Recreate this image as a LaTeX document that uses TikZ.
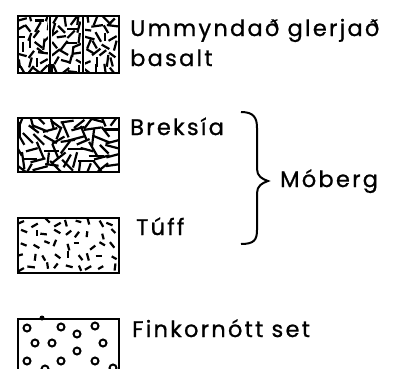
\documentclass[tikz,border=0pt]{standalone}
\usepackage{fontspec}
\setmainfont{Poppins}[LetterSpace=10, FakeBold=0.9]
\tikzset{
  legendbox/.style={draw, line width=2.4pt},
  lbl/.style={anchor=base west, inner sep=0pt, font=\fontsize{22.5}{26}\selectfont},
  dashstroke/.style={line width=2.2pt, line cap=butt},
  grain/.style={line width=2pt}
}
\newcommand{\griddashes}[8]{%
  % #1 x0 #2 y0 #3 cols #4 rows #5 spacing #6 half-length min #7 half-length extra #8 jitter
  \foreach \ci in {1,...,#3} {
    \foreach \ri in {1,...,#4} {
      \pgfmathsetmacro\cx{#1+(\ci-0.5)*#5+#8*rand}
      \pgfmathsetmacro\cy{#2+(\ri-0.5)*#5+#8*rand}
      \pgfmathsetmacro\ang{random(0,11)*15+random(0,1)*7}
      \pgfmathsetmacro\len{#6+#7*rnd}
      \pgfmathsetmacro\dx{\len*cos(\ang)}
      \pgfmathsetmacro\dy{\len*sin(\ang)}
      \draw[dashstroke] (\cx-\dx,\cy-\dy) -- (\cx+\dx,\cy+\dy);
    }%
  }%
}
\begin{document}
\begin{tikzpicture}[x=1pt,y=-1pt]
\useasboundingbox (0,0) rectangle (399,368);
\pgfmathsetseed{11}
% ---- box 1: altered glassy basalt
\begin{scope}
  \clip (17,15) rectangle (118,72);
  \griddashes{17}{15}{12}{7}{8.4}{4}{2}{2.5}
\end{scope}
\fill[white] (48,15) rectangle (52,72);
\fill[white] (81,15) rectangle (85,72);
\draw[line width=2pt] (50,15) -- (50,72);
\draw[line width=2pt] (83,15) -- (83,72);
\fill (47.5,64) rectangle (53,72);
\node[legendbox, minimum width=101pt, minimum height=57pt, anchor=north west, inner sep=0pt] (b1) at (17,15) {};
\node[lbl] (t1) at (130,36) {Ummyndað glerjað};
\node[lbl] (t1b) at (130,66) {basalt};
% ---- box 2: breccia
\begin{scope}
  \clip (17,117) rectangle (118,171);
  \griddashes{17}{117}{11}{6}{9.2}{6}{3}{3}
\end{scope}
\node[legendbox, minimum width=101pt, minimum height=54pt, anchor=north west, inner sep=0pt] (b2) at (17,117) {};
\node[lbl] (t2) at (130,135) {Breksía};
% ---- box 3: tuff
\begin{scope}
  \clip (17,217) rectangle (118,272);
  \griddashes{17}{217}{9}{5}{11.2}{2.8}{1}{3}
\end{scope}
\node[legendbox, minimum width=101pt, minimum height=55pt, anchor=north west, inner sep=0pt] (b3) at (17,217) {};
\node[lbl] (t3) at (136,235) {Túff};
% ---- box 4: fine-grained sediment
\begin{scope}
  \clip (17,318) rectangle (118,368);
  \foreach \p in {(27,328),(61,327),(77,334),(95,326),(35,343),(52,343),(77,351),(103,343),(27,361),(61,361),(95,361),(45,369),(113,368)}
    \draw[grain] \p circle (3.5);
\end{scope}
\fill (42,318) circle (2.5);
\node[legendbox, minimum width=101pt, minimum height=52pt, anchor=north west, inner sep=0pt] (b4) at (17,318) {};
\node[lbl] (t4) at (132,337) {Finkornótt set};
% ---- brace
\draw[line width=2pt] (241,112) .. controls (254,112) and (257,118) .. (257,128) -- (257,169)
  .. controls (257,176) and (262,179) .. (268,181)
  .. controls (262,183) and (257,186) .. (257,193) -- (257,230)
  .. controls (257,240) and (254,244) .. (241,244);
\node[lbl] (t5) at (280,187) {Móberg};
\end{tikzpicture}
\end{document}
